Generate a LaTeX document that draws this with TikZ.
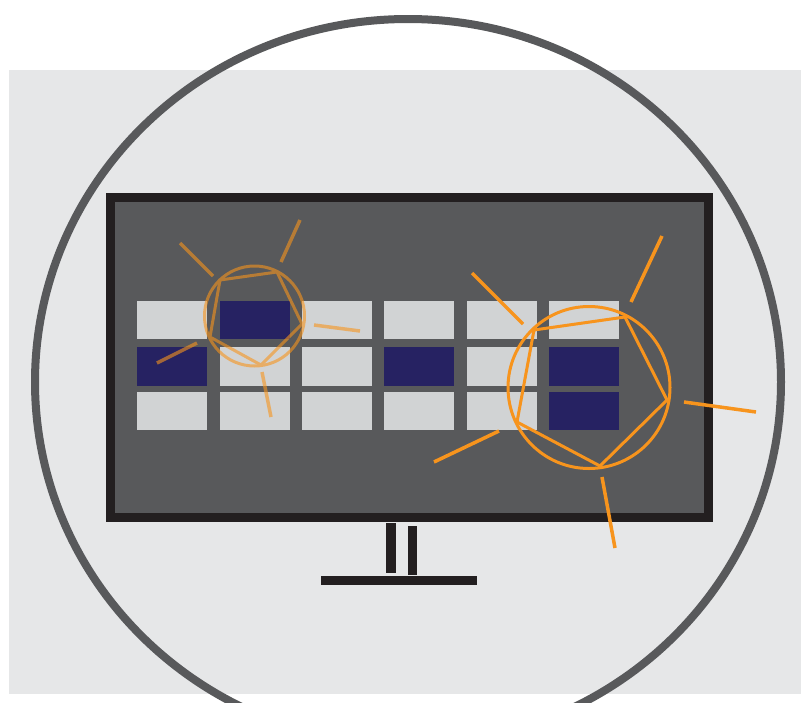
\documentclass[tikz,border=0pt]{standalone}
\usepackage{xcolor}
\definecolor{wallgray}{HTML}{E6E7E8}
\definecolor{ringgray}{HTML}{58595B}
\definecolor{framedark}{HTML}{231F20}
\definecolor{tilelight}{HTML}{D1D3D4}
\definecolor{tilenavy}{HTML}{262262}
\definecolor{burstorange}{HTML}{F7941D}
\tikzset{
  burst/.style={draw=burstorange, line width=3pt},
  ray/.style={burst, line width=3.5pt},
  stand/.style={fill=framedark}
}

\begin{document}
\begin{tikzpicture}[x=1pt, y=-1pt]
\useasboundingbox (0, 0) rectangle (801, 702);
\fill[wallgray] (9, 70) rectangle (801, 694);
\draw[ringgray, line width=8pt] (408, 382) ellipse [x radius=373, y radius=363];
% monitor
\draw[framedark, fill=ringgray, line width=9pt] (110, 197) rectangle (708, 517);
\fill[stand] (386, 523) rectangle (396, 573);
\fill[stand] (408, 526) rectangle (417, 575);
\fill[stand] (321, 576) rectangle (477, 585);
% tiles
\foreach \x in {137,220,302,384,467,549}
    \foreach \y/\h in {301/38,347/39,392/38}
        \fill[tilelight] (\x, \y) rectangle ++(70, \h);
\foreach \x/\y/\h in {220/301/38,137/347/39,384/347/39,549/347/39,549/392/38}
    \fill[tilenavy] (\x, \y) rectangle ++(70, \h);
% faded burst
\begin{scope}[opacity=0.6, transparency group]
\draw[burst] (254.5, 316) circle (50);
\draw[burst] (220, 280) -- (277, 272) -- (302, 324) -- (261, 365) -- (210, 337) -- cycle;
\foreach \a/\b/\c/\d in {180/243/213/276,300/220/281/262,314/325/360/331,262/372/271/417,197/343/157/363}
    \draw[ray] (\a, \b) -- (\c, \d);
\end{scope}
% bright burst
\draw[burst] (589, 387.5) circle (81);
\draw[burst] (534, 330) -- (625, 317) -- (667, 400) -- (600, 466) -- (517, 422) -- cycle;
\foreach \a/\b/\c/\d in {472/273/523/324,662/236/631/302,684/402/756/412,602/477/615/548,499/431/434/462}
    \draw[ray] (\a, \b) -- (\c, \d);
\end{tikzpicture}
\end{document}
